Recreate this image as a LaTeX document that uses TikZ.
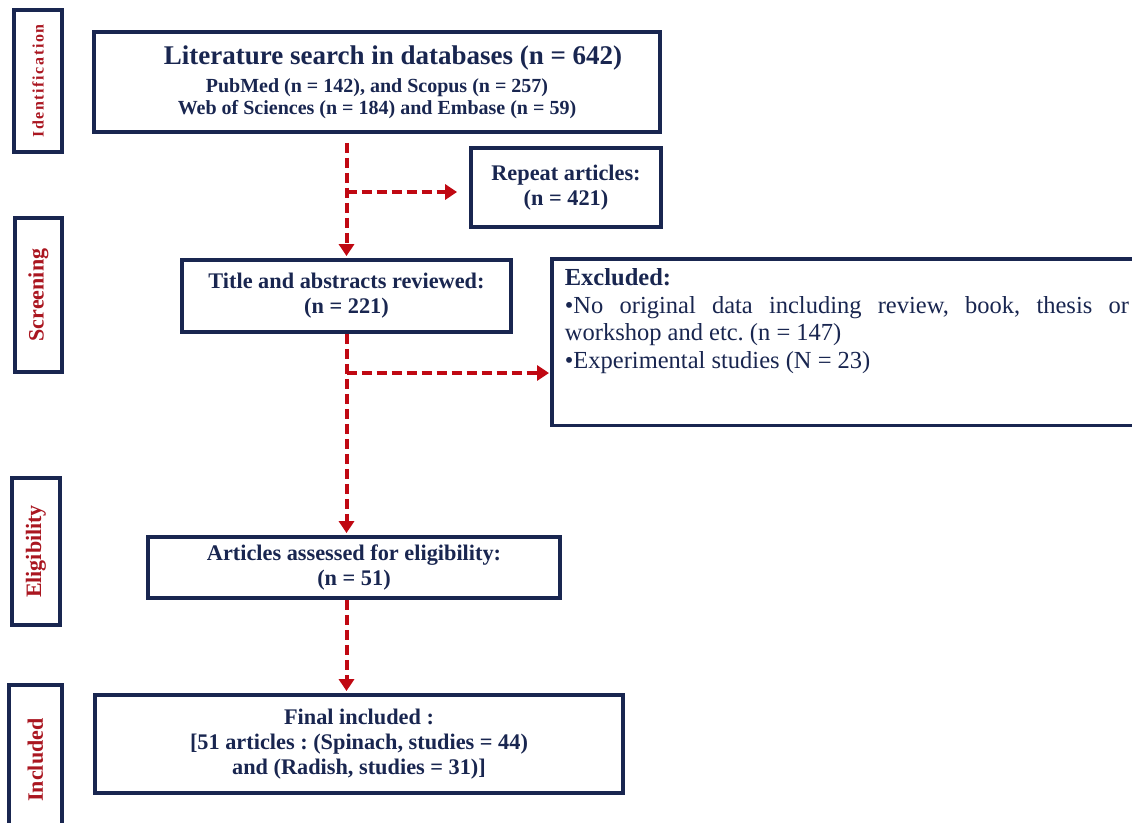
\documentclass[tikz,border=0pt]{standalone}
\usepackage{fontspec}
\setmainfont{Liberation Serif}
\usetikzlibrary{arrows.meta}
\frenchspacing

\definecolor{navy}{RGB}{25,38,80}
\definecolor{flowred}{RGB}{192,8,18}
\definecolor{stagered}{RGB}{170,22,32}

\begin{document}
\begin{tikzpicture}[x=1pt, y=-1pt,
    box/.style={draw=navy, line width=3.8pt, rectangle, align=center, text=navy,
        inner sep=0pt, font=\bfseries\fontsize{22.3}{25}\selectfont},
    stage/.style={draw=navy, line width=3.8pt, rectangle, inner sep=0pt, text=stagered,
        font=\bfseries\fontsize{22}{24}\selectfont},
    flow/.style={draw=flowred, line width=4pt, dash pattern=on 10pt off 5pt,
        -{Triangle[length=12pt,width=15pt]}, shorten >=2pt}]

            \fill[white] (0,0) rectangle (1132,822);
            \useasboundingbox (0,0) rectangle (1132,822);

            % 左侧阶段标签
            \node[stage, minimum width=48, minimum height=142] (ident) at (38,81)
                {\rotatebox{90}{\fontsize{16}{16}\selectfont\addfontfeature{LetterSpace=10}Identification}};
            \node[stage, minimum width=47, minimum height=154] (screen) at (38.5,295)
                {\rotatebox{90}{Screening}};
            \node[stage, minimum width=48, minimum height=147] (elig) at (36,551.5)
                {\rotatebox{90}{Eligibility}};
            \node[stage, minimum width=53, minimum height=150] (incl) at (35.5,760)
                {\rotatebox{90}{Included}};

            % 主流程框
            \node[box, minimum width=566, minimum height=100, font=\bfseries\fontsize{20}{22}\selectfont] (lit) at (377,82)
                {{\fontsize{27}{22}\selectfont\hspace*{32pt}Literature search in databases (n = 642)}\\[6pt]
                 PubMed (n = 142), and Scopus (n = 257)\\
                 Web of Sciences (n = 184) and Embase (n = 59)};
            \node[box, minimum width=190, minimum height=79] (dup) at (566,187.5)
                {Repeat articles:\\(n = 421)};
            \node[box, minimum width=329, minimum height=72] (title) at (346.5,296)
                {Title and abstracts reviewed:\\(n = 221)};
            \node[box, anchor=north west, align=justify, text width=564pt, inner xsep=13pt, inner ysep=10pt,
                  font=\fontsize{24.5}{27.5}\selectfont] (excl) at (550,257)
                {\hyphenpenalty=10000 \tolerance=9999
                 \textbf{Excluded:}\par
                 \textbullet No original data including review, book, thesis or workshop and etc. (n = 147)\par
                 \textbullet Experimental studies (N = 23)\rule[-47pt]{0pt}{1pt}};
            \node[box, minimum width=412, minimum height=61] (assess) at (354,567.5)
                {Articles assessed for eligibility:\\(n = 51)};
            \node[box, minimum width=528, minimum height=98] (final) at (359,744)
                {Final included :\\{}[51 articles : (Spinach, studies = 44)\\and (Radish, studies = 31)]};

            % 箭头
            \coordinate (fork) at (346.5,192);
            \coordinate (split) at (346.5,373);
            \draw[flow, shorten <=9pt] (lit.south -| title.north) -- (title.north);
            \draw[flow, shorten >=12pt] (fork) -- (fork -| dup.west);
            \draw[flow] (title.south) -- (title.south |- assess.north);
            \draw[flow, shorten >=1pt] (split) -- (split -| excl.west);
            \draw[flow] (assess.south -| title.south) -- (title.south |- final.north);
        \end{tikzpicture}
\end{document}
